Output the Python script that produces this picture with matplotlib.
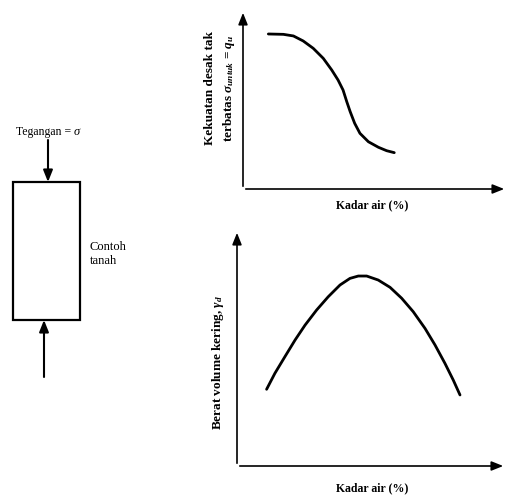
import numpy as np
import matplotlib.pyplot as plt
from matplotlib.patches import Rectangle

plt.rcParams['font.family'] = ['Liberation Serif', 'DejaVu Serif']
plt.rcParams['mathtext.fontset'] = 'custom'
plt.rcParams['mathtext.it'] = 'Liberation Serif:italic:bold'
plt.rcParams['mathtext.rm'] = 'Liberation Serif:bold'

# kurva kuat tekan bebas vs kadar air (satuan sembarang, 0-100)
qu_kadar = [9.6, 15.3, 19.1, 22.8, 26.6, 30.4, 33.6, 36.0, 37.9, 39.3, 40.6, 42.3,
            44.3, 47.5, 51.3, 54.4, 57.3]
qu_nilai = [86.6, 86.4, 85.5, 82.7, 78.6, 73.0, 66.5, 60.9, 55.3, 48.8, 43.2, 36.7,
            31.1, 26.4, 23.3, 21.4, 20.3]

# kurva berat volume kering vs kadar air
gd_kadar = [11.0, 14.1, 17.8, 21.6, 25.3, 29.6, 33.9, 38.3, 42.0, 45.1, 48.2, 52.5,
            56.9, 61.2, 65.5, 69.9, 73.6, 77.3, 80.4, 82.9]
gd_nilai = [32.5, 39.3, 46.3, 53.4, 59.7, 66.1, 71.7, 76.7, 79.5, 80.5, 80.5, 78.8,
            75.7, 71.1, 65.4, 58.3, 51.3, 43.5, 36.4, 30.1]

W, H = 509, 499
fig = plt.figure(figsize=(W / 100, H / 100), dpi=100)

def buat_axes(x0, y0, x1, y1):
    # x0,y0 = titik asal (px), x1 = ujung panah sumbu x, y1 = ujung panah sumbu y
    ax = fig.add_axes([x0 / W, 1 - y0 / H, (x1 - x0) / W, (y0 - y1) / H])
    ax.set_xlim(0, 100)
    ax.set_ylim(0, 100)
    for s in ax.spines.values():
        s.set_visible(False)
    ax.set_xticks([])
    ax.set_yticks([])
    ax.patch.set_alpha(0)
    kw = dict(arrowprops=dict(arrowstyle='-|>,head_length=0.5,head_width=0.2', lw=1.2,
                              color='black', mutation_scale=14),
              xycoords='axes fraction', textcoords='axes fraction')
    ax.annotate('', xy=(1, 0), xytext=(0, 0), **kw)
    ax.annotate('', xy=(0, 1), xytext=(0, 0), **kw)
    return ax

ax1 = buat_axes(243, 189, 507, 10)
ax1.plot(qu_kadar, qu_nilai, color='black', lw=2, solid_capstyle='round', solid_joinstyle='round')

ax2 = buat_axes(237, 466, 506, 230)
ax2.plot(gd_kadar, gd_nilai, color='black', lw=2, solid_capstyle='round', solid_joinstyle='round')

# teks dan diagram contoh tanah di layer penuh
ov = fig.add_axes([0, 0, 1, 1])
ov.set_xlim(0, W)
ov.set_ylim(H, 0)
ov.axis('off')
ov.patch.set_alpha(0)

ov.text(372, 205, 'Kadar air (%)', ha='center', va='center', fontsize=8.5, fontweight='bold')
ov.text(372, 488, 'Kadar air (%)', ha='center', va='center', fontsize=8.5, fontweight='bold')
ov.text(210, 88, 'Kekuatan desak tak', ha='center', va='center', rotation=90,
        fontsize=9.5, fontweight='bold')
ov.text(229, 88, r'terbatas $\sigma_{untuk}$ = $q_u$', ha='center', va='center', rotation=90,
        fontsize=9.5, fontweight='bold')
ov.text(218, 362, r'Berat volume kering, $\gamma_d$', ha='center', va='center', rotation=90,
        fontsize=9.5, fontweight='bold')

ov.text(16, 132, 'Tegangan =', ha='left', va='center', fontsize=8.5)
ov.text(74, 132, 'σ', ha='left', va='center', fontsize=9, style='italic')
ov.text(90, 254, 'Contoh\ntanah', ha='left', va='center', fontsize=9, linespacing=1.3)

ov.add_patch(Rectangle((13, 182), 67, 138, fill=False, lw=1.6, edgecolor='black'))
ak = dict(arrowstyle='-|>,head_length=0.5,head_width=0.2', lw=1.5, color='black',
          mutation_scale=14, shrinkA=0, shrinkB=0)
ov.annotate('', xy=(48, 182), xytext=(48, 140), arrowprops=ak)
ov.annotate('', xy=(44, 320), xytext=(44, 377), arrowprops=ak)

fig.savefig('out.png', dpi=100)
